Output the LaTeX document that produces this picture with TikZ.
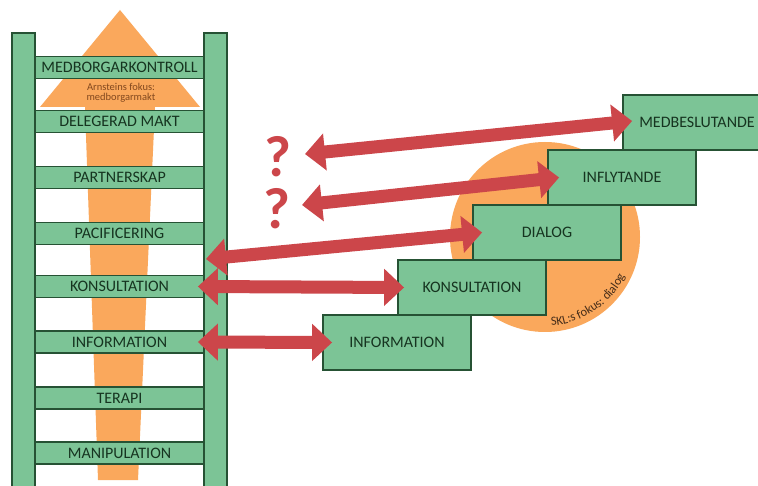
\documentclass[tikz,border=0pt]{standalone}
\usepackage{fontspec}
\setmainfont{Carlito}
\usetikzlibrary{arrows.meta,decorations.text}
\definecolor{lgreen}{RGB}{124,196,150}
\definecolor{dgreen}{RGB}{38,82,52}
\definecolor{tgreen}{RGB}{22,52,32}
\definecolor{ora}{RGB}{250,168,92}
\definecolor{redarr}{RGB}{204,70,74}
\definecolor{brownt}{RGB}{130,72,30}
\definecolor{sklt}{RGB}{70,45,25}
\begin{document}
\begin{tikzpicture}[x=1pt,y=-1pt,
  rung/.style={draw=dgreen, line width=1.8pt, fill=lgreen, minimum width=169pt, minimum height=22pt, inner sep=0pt, text=tgreen, font=\fontsize{16}{18}\selectfont},
  stepbox/.style={draw=dgreen, line width=1.8pt, fill=lgreen, minimum width=148pt, minimum height=55pt, inner sep=0pt, text=tgreen, font=\fontsize{16}{18}\selectfont},
  rail/.style={draw=dgreen, line width=1.8pt, fill=lgreen},
  redarrow/.style={draw=redarr, line width=13pt, {Triangle[length=20pt,width=36pt]}-{Triangle[length=20pt,width=36pt]}},
  qmark/.style={text=redarr, font=\fontsize{58}{60}\selectfont\bfseries, inner sep=0pt}]
% background / bounding box
\fill[white] (0,0) rectangle (758,486);
\useasboundingbox (0,0) rectangle (758,486);
% orange arrow of the ladder
\fill[ora] (120,10) -- (200,107) -- (155,107) -- (138,480) -- (98,480) -- (85,107) -- (40,107) -- cycle;
\node[text=brownt, align=center, inner sep=0pt, font=\fontsize{10.5}{10}\selectfont] (arn) at (121,93) {Arnsteins fokus:\\medborgarmakt};
% rungs
\node[rung] (r1) at (119.5,67.5) {MEDBORGARKONTROLL};
\node[rung] (r2) at (119.5,121.5) {DELEGERAD MAKT};
\node[rung] (r3) at (119.5,177.5) {PARTNERSKAP};
\node[rung] (r4) at (119.5,233.5) {PACIFICERING};
\node[rung] (r5) at (119.5,286.5) {KONSULTATION};
\node[rung] (r6) at (119.5,342) {INFORMATION};
\node[rung] (r7) at (119.5,398) {TERAPI};
\node[rung] (r8) at (119.5,453) {MANIPULATION};
% rails
\path[rail] (12,33) rectangle (35,495);
\path[rail] (204,33) rectangle (227,495);
% orange circle
\fill[ora] (545,237) circle[radius=95];
\path[decorate, decoration={text along path, text align=center,
  text={|\fontsize{12.5}{13}\selectfont\color{sklt}|SKL:s fokus: dialog}}]
  (545,237) ++(94:89) arc[start angle=94, end angle=18, radius=89];
% staircase
\node[stepbox] (b1) at (397,342.5) {INFORMATION};
\node[stepbox] (b2) at (472,287.5) {KONSULTATION};
\node[stepbox] (b3) at (547,232.5) {DIALOG};
\node[stepbox] (b4) at (622,177.5) {INFLYTANDE};
\node[stepbox] (b5) at (697,122.5) {MEDBESLUTANDE};
% question marks
\node[qmark] (q1) at (278,157) {?};
\node[qmark] (q2) at (277,209) {?};
% red arrows
\coordinate (t1) at (305,154);
\coordinate (t2) at (302,205);
\coordinate (t3) at (206,259);
\draw[redarrow] (t1) -- ([xshift=10pt,yshift=1.5pt]b5.west);
\draw[redarrow] (t2) -- ([xshift=12pt]b4.west);
\draw[redarrow] (t3) -- ([xshift=10pt]b3.west);
\draw[redarrow] ([xshift=-7pt]r5.east) -- ([xshift=7pt]b2.west);
\draw[redarrow] ([xshift=-7pt]r6.east) -- ([xshift=10pt]b1.west);
\end{tikzpicture}
\end{document}
